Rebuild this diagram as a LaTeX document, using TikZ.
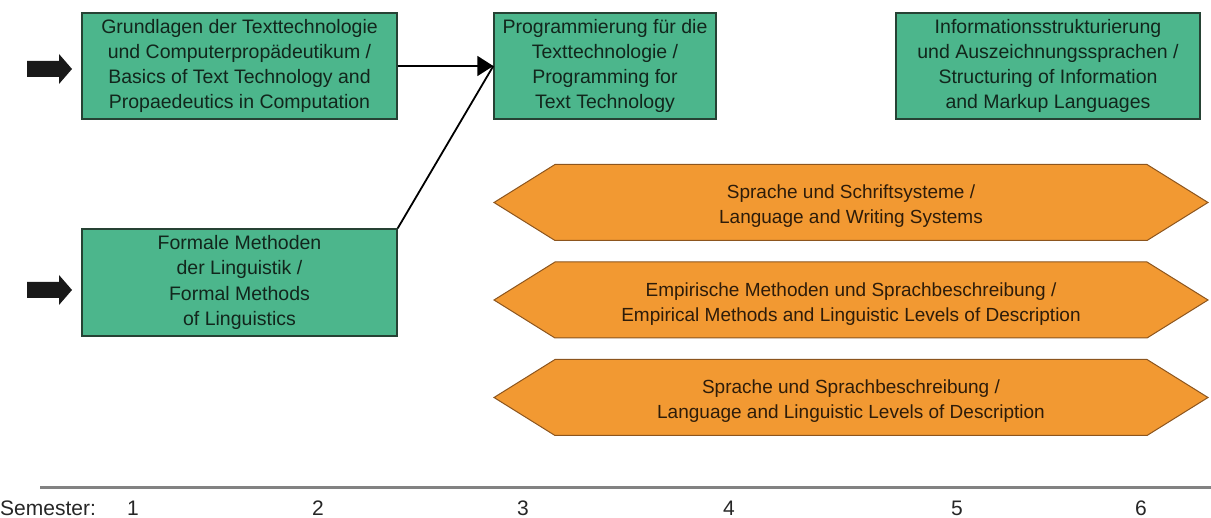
\documentclass[tikz,border=0pt]{standalone}
\usepackage{fontspec}
\setmainfont{Liberation Sans}
\usetikzlibrary{arrows.meta}
\definecolor{boxgreen}{RGB}{76,182,140}
\definecolor{boxedge}{RGB}{38,66,52}
\definecolor{boxtext}{RGB}{18,38,28}
\definecolor{hexorange}{RGB}{242,153,50}
\definecolor{hexedge}{RGB}{140,85,30}
\definecolor{hextext}{RGB}{45,28,10}
\definecolor{axisgray}{RGB}{130,130,130}
\begin{document}
\begin{tikzpicture}[x=1pt,y=-1pt,
  gbox/.style={draw=boxedge, line width=1.4pt, fill=boxgreen, text=boxtext, align=center,
    inner sep=0pt, font=\fontsize{19.5}{25.2}\selectfont},
  hexshape/.style={draw=hexedge, line width=1pt, fill=hexorange},
  hexlabel/.style={text=hextext, align=center, inner sep=0pt, font=\fontsize{19}{25}\selectfont},
  conn/.style={line width=1.8pt, -{Triangle[length=16pt,width=20pt]}},
  conn2/.style={line width=1.8pt},
  inarrow/.style={fill=black!90},
  semlabel/.style={anchor=base, inner sep=0pt, font=\fontsize{21}{22}\selectfont, text=black!85}
]
\useasboundingbox (0,0) rectangle (1211,518);

% green boxes
\node[gbox, minimum width=315, minimum height=106] (b1) at (239.5,66)
  {Grundlagen der Texttechnologie\\und Computerpropädeutikum /\\Basics of Text Technology and\\Propaedeutics in Computation};
\node[gbox, minimum width=222, minimum height=106] (b2) at (605,66)
  {Programmierung für die\\Texttechnologie /\\Programming for\\Text Technology};
\node[gbox, minimum width=304, minimum height=106] (b3) at (1048,66)
  {Informationsstrukturierung\\und Auszeichnungssprachen /\\Structuring of Information\\and Markup Languages};
\node[gbox, minimum width=315, minimum height=107] (b4) at (239.5,282.5)
  {Formale Methoden\\der Linguistik /\\Formal Methods\\of Linguistics};

% connectors
\draw[conn2] (b4.north east) -- (b2.west);
\draw[conn] (b1.east) -- (b2.west);

% input arrows
\foreach \yy/\nm in {69/a1, 290/a2} {
  \coordinate (\nm) at (28,\yy);
  \fill[inarrow] (27,\yy-8) -- (59,\yy-8) -- (59,\yy-15) -- (72,\yy) -- (59,\yy+15) -- (59,\yy+8) -- (27,\yy+8) -- cycle;
}

% hexagons
\foreach \cy/\nm in {202.5/h1, 300/h2, 397.5/h3} {
  \draw[hexshape] (494,\cy) -- (555,\cy-38) -- (1147,\cy-38) -- (1208,\cy) -- (1147,\cy+38) -- (555,\cy+38) -- cycle;
  \coordinate (\nm) at (851,\cy+4);
}
\node[hexlabel] (t1) at (h1) {Sprache und Schriftsysteme /\\Language and Writing Systems};
\node[hexlabel] (t2) at (h2) {Empirische Methoden und Sprachbeschreibung /\\Empirical Methods and Linguistic Levels of Description};
\node[hexlabel] (t3) at (h3) {Sprache und Sprachbeschreibung /\\Language and Linguistic Levels of Description};

% semester axis
\coordinate (axL) at (40,488);
\coordinate (axR) at (1211,488);
\draw[axisgray, line width=3pt] (axL) -- (axR);
\node[semlabel, anchor=base west] (sem) at (0,515) {Semester:};
\node[semlabel] (s1) at (133,515) {1};
\node[semlabel] (s2) at (318,515) {2};
\node[semlabel] (s3) at (523,515) {3};
\node[semlabel] (s4) at (729,515) {4};
\node[semlabel] (s5) at (957,515) {5};
\node[semlabel] (s6) at (1141,515) {6};
\end{tikzpicture}
\end{document}
